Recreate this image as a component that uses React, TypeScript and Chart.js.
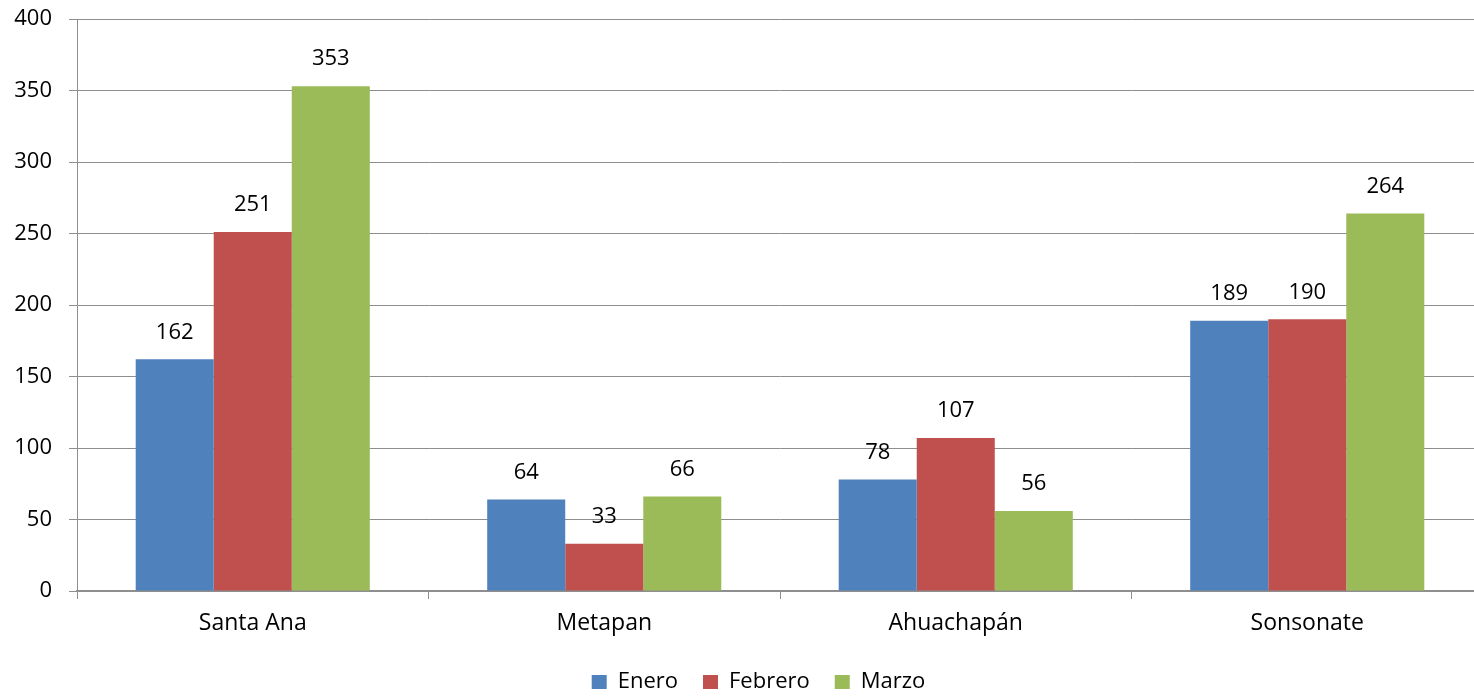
import React, { useEffect, useRef } from "react";
import { Chart, registerables } from "chart.js";

Chart.register(...registerables);

const categories = ["Santa Ana", "Metapan", "Ahuachapán", "Sonsonate"];
const seriesNames = ["Enero", "Febrero", "Marzo"];
const enero = [162, 64, 78, 189];
const febrero = [251, 33, 107, 190];
const marzo = [353, 66, 56, 264];
const colors = ["#4F81BD", "#C0504D", "#9BBB59"];

const FONT = "'Open Sans', sans-serif";
const FS = 22;

const dataLabels = {
  id: "dataLabels",
  afterDatasetsDraw(chart: any) {
    const ctx = chart.ctx;
    ctx.save();
    ctx.font = `${FS}px ${FONT}`;
    ctx.fillStyle = "#000";
    ctx.textAlign = "center";
    ctx.textBaseline = "middle";
    chart.data.datasets.forEach((ds: any, i: number) => {
      const meta = chart.getDatasetMeta(i);
      meta.data.forEach((bar: any, j: number) => {
        ctx.fillText(String(ds.data[j]), bar.x, bar.y - 27);
      });
    });
    ctx.restore();
  },
};

const legendShift = {
  id: "legendShift",
  afterLayout(chart: any) {
    const l = chart.legend;
    if (l) {
      l.left += 17;
      l.right += 17;
    }
  },
};

export default function App() {
  const ref = useRef<HTMLCanvasElement | null>(null);
  useEffect(() => {
    if (!ref.current) return;
    const chart = new Chart(ref.current, {
      type: "bar",
      data: {
        labels: categories,
        datasets: [enero, febrero, marzo].map((d, i) => ({
          label: seriesNames[i],
          data: d,
          backgroundColor: colors[i],
          borderWidth: 0,
          categoryPercentage: 0.666,
          barPercentage: 1,
        })),
      },
      options: {
        animation: false,
        responsive: true,
        maintainAspectRatio: false,
        layout: { padding: { top: 19, right: 0, left: 0, bottom: 0 } },
        plugins: {
          tooltip: { enabled: false },
          legend: {
            position: "bottom",
            labels: {
              boxWidth: 15,
              boxHeight: 14,
              padding: 25,
              color: "#000",
              font: { family: FONT, size: FS },
            },
          },
        },
        scales: {
          x: {
            offset: true,
            grid: {
              offset: true,
              drawOnChartArea: false,
              drawTicks: true,
              tickLength: 8,
              color: "#8e8e8e",
            },
            border: { color: "#8e8e8e", width: 1.5 },
            ticks: { color: "#000", padding: 11, font: { family: FONT, size: 23 } },
            afterFit: (s: any) => {
              s.height = 55;
            },
          },
          y: {
            min: 0,
            max: 400,
            ticks: {
              stepSize: 50,
              color: "#000",
              padding: 17,
              font: { family: FONT, size: FS },
            },
            grid: { color: "#8e8e8e", tickLength: 8 },
            border: { color: "#8e8e8e" },
            afterFit: (s: any) => {
              s.width = 77;
              s.paddingTop = 0;
              s.paddingBottom = 0;
            },
          },
        },
      },
      plugins: [dataLabels, legendShift],
    });
    return () => chart.destroy();
  }, []);
  return (
    <div
      style={{
        position: "fixed",
        left: 0,
        top: 0,
        width: 1474,
        height: 696,
        overflow: "hidden",
        background: "#fff",
      }}
    >
      <div style={{ position: "absolute", left: 0, top: 0, width: 1483, height: 703 }}>
        <canvas ref={ref} />
      </div>
    </div>
  );
}
